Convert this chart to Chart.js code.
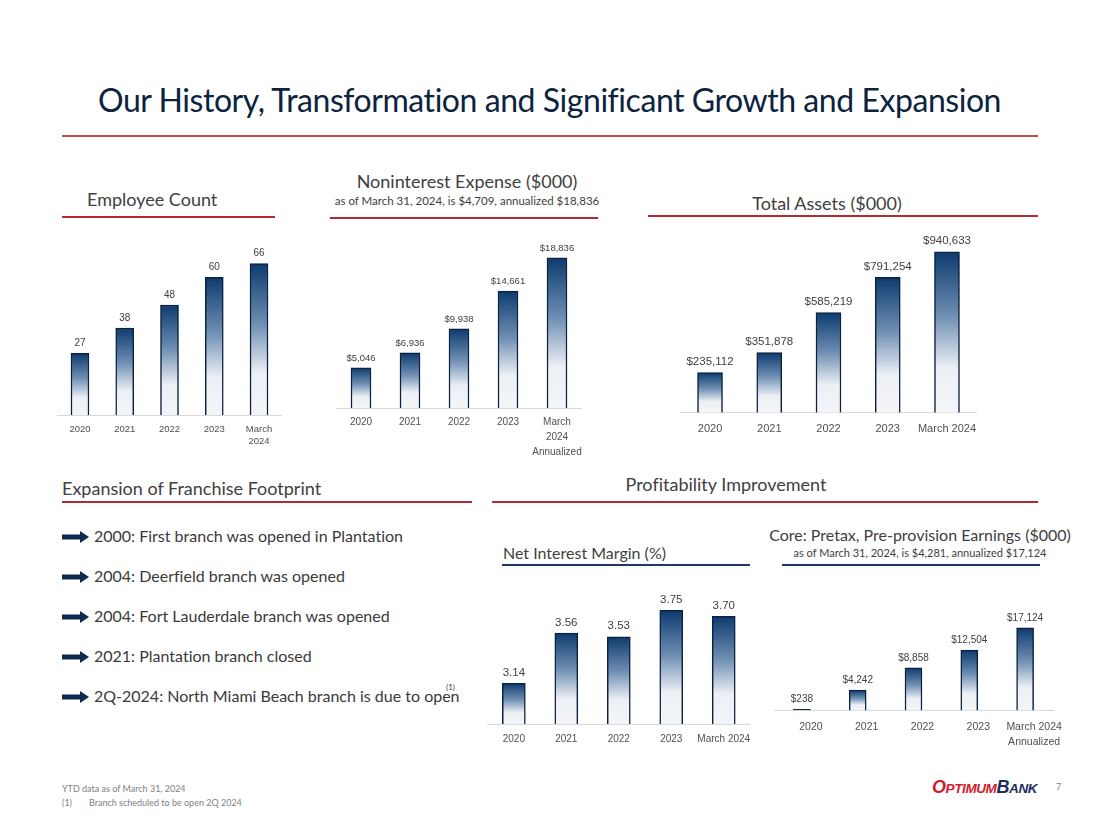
<!DOCTYPE html>
<html>
<head>
<meta charset="utf-8">
<script src="https://cdn.jsdelivr.net/npm/chart.js@4.4.1/dist/chart.umd.min.js"></script>
<style>
  body { margin: 0; background: #fff; }
  #page { position: relative; width: 1100px; height: 825px; overflow: hidden; font-family: Lato, "Noto Sans", sans-serif; font-variant-ligatures: none; }
  .abs { position: absolute; white-space: nowrap; }
  .title { left: 98px; top: 80px; font-size: 32px; color: #0c2340; letter-spacing: -0.45px; }
  .head { font-size: 18px; color: #404040; }
  .sub { font-size: 11.5px; color: #404040; }
  .red { position: absolute; height: 2px; background: #b22a32; }
  .navy { position: absolute; height: 2px; background: #1f3864; }
  .chart { position: absolute; }
  .item { position: absolute; left: 62px; font-size: 16px; color: #3a3a3a; white-space: nowrap; }
  .item svg { vertical-align: middle; margin-right: 5px; position: relative; top: -1px; }
  .foot { font-size: 9px; color: #7f7f7f; }
</style>
</head>
<body>
<div id="page">
  <div class="abs title">Our History, Transformation and Significant Growth and Expansion</div>
  <div class="red" style="left:62px; top:135px; width:976px; background:#c0504d;"></div>

  <div class="abs head" style="left:87px; top:188px;">Employee Count</div>
  <div class="red" style="left:62px; top:216px; width:213px;"></div>

  <div class="abs head" style="left:330px; top:170px; width:274px; text-align:center;">Noninterest Expense ($000)</div>
  <div class="abs sub" style="left:320px; top:194px; width:294px; text-align:center;">as of March 31, 2024, is $4,709, annualized $18,836</div>
  <div class="red" style="left:330px; top:217px; width:268px;"></div>

  <div class="abs head" style="left:727px; top:192px; width:200px; text-align:center;">Total Assets ($000)</div>
  <div class="red" style="left:648px; top:215px; width:390px;"></div>

  <div class="abs head" style="left:62px; top:477px;">Expansion of Franchise Footprint</div>
  <div class="red" style="left:62px; top:501px; width:410px;"></div>

  <div class="abs head" style="left:616px; top:473px; width:220px; text-align:center;">Profitability Improvement</div>
  <div class="red" style="left:492px; top:501px; width:546px;"></div>

  <div class="abs head" style="left:503px; top:543px; font-size:16px;">Net Interest Margin (%)</div>
  <div class="navy" style="left:502px; top:564px; width:248px;"></div>

  <div class="abs head" style="left:760px; top:525px; width:320px; text-align:center; font-size:16px;">Core: Pretax, Pre-provision Earnings ($000)</div>
  <div class="abs sub" style="left:770px; top:546px; width:300px; text-align:center; font-size:11px;">as of March 31, 2024, is $4,281, annualized $17,124</div>
  <div class="navy" style="left:782px; top:564px; width:258px;"></div>

  <div id="items"></div>
  <div class="abs" style="left:446px; top:682px; font-size:8px; color:#3a3a3a;">(1)</div>

  <div class="chart" style="left:50px; top:240px; width:240px; height:215px;"><canvas id="empChart"></canvas></div>
  <div class="chart" style="left:320px; top:240px; width:280px; height:227px;"><canvas id="nieChart"></canvas></div>
  <div class="chart" style="left:660px; top:230px; width:340px; height:216px;"><canvas id="taChart"></canvas></div>
  <div class="chart" style="left:480px; top:590px; width:280px; height:164px;"><canvas id="nimChart"></canvas></div>
  <div class="chart" style="left:770px; top:590px; width:300px; height:168px;"><canvas id="coreChart"></canvas></div>

  <div class="abs foot" style="left:62px; top:783px;">YTD data as of March 31, 2024</div>
  <div class="abs foot" style="left:62px; top:797px;">(1)</div>
  <div class="abs foot" style="left:89px; top:797px;">Branch scheduled to be open 2Q 2024</div>
  <div class="abs" style="left:932px; top:777px; font-family:'Liberation Sans', Arial, sans-serif; font-weight:bold; font-style:italic; letter-spacing:-0.4px;">
    <span style="color:#d0202e; font-size:18px;">O</span><span style="color:#d0202e; font-size:13.5px;">PTIMUM</span><span style="color:#1f2d5c; font-size:18px;">B</span><span style="color:#1f2d5c; font-size:13.5px;">ANK</span>
  </div>
  <div class="abs foot" style="left:1056px; top:781px;">7</div>
</div>

<script>
// ---- данные ----
const empYears = ['2020', '2021', '2022', '2023', ['March', '2024']];
const empCount = [27, 38, 48, 60, 66];

const nieYears = ['2020', '2021', '2022', '2023', ['March', '2024', 'Annualized']];
const nieValues = [5046, 6936, 9938, 14661, 18836];

const taYears = ['2020', '2021', '2022', '2023', 'March 2024'];
const taValues = [235112, 351878, 585219, 791254, 940633];

const nimYears = ['2020', '2021', '2022', '2023', 'March 2024'];
const nimValues = [3.14, 3.56, 3.53, 3.75, 3.70];

const coreYears = ['2020', '2021', '2022', '2023', ['March 2024', 'Annualized']];
const coreValues = [238, 4242, 8858, 12504, 17124];

const footprint = [
  '2000: First branch was opened in Plantation',
  '2004: Deerfield branch was opened',
  '2004: Fort Lauderdale branch was opened',
  '2021: Plantation branch closed',
  '2Q-2024: North Miami Beach branch is due to open'
];

// список со стрелками
const arrowSvg = '<svg width="27" height="12" viewBox="0 0 27 12"><rect x="0" y="3.5" width="19" height="5" fill="#0e2a4f"/><polygon points="18,0 27,6 18,12" fill="#0e2a4f"/></svg>';
const itemsBox = document.getElementById('items');
footprint.forEach((t, i) => {
  const d = document.createElement('div');
  d.className = 'item';
  d.style.top = (526 + i * 40) + 'px';
  d.innerHTML = arrowSvg + t;
  itemsBox.appendChild(d);
});

// градиент столбика: тёмно-синий сверху, почти белый снизу
function barGradient(c) {
  const chart = c.chart;
  if (!chart.chartArea || c.type !== 'data') return '#0d3b6e';
  const y = chart.scales.y;
  const top = y.getPixelForValue(c.raw);
  let base = y.getBasePixel();
  if (base - top < 1) base = top + 1;
  const g = chart.ctx.createLinearGradient(0, top, 0, base);
  g.addColorStop(0, '#0d3b6e');
  g.addColorStop(0.4, '#6f8fb3');
  g.addColorStop(0.72, '#eceff4');
  g.addColorStop(1, '#f4f5f8');
  return g;
}

// подписи значений над столбиками
function valueLabels(format, font, color, gap) {
  return {
    id: 'valueLabels',
    afterDatasetsDraw(chart) {
      const ctx = chart.ctx;
      const meta = chart.getDatasetMeta(0);
      const data = chart.data.datasets[0].data;
      ctx.save();
      ctx.font = font;
      ctx.fillStyle = color;
      ctx.textAlign = 'center';
      ctx.textBaseline = 'bottom';
      meta.data.forEach((bar, i) => ctx.fillText(format(data[i]), bar.x, bar.y - gap));
      ctx.restore();
    }
  };
}

const money = v => '$' + v.toLocaleString('en-US');

function makeChart(id, labels, values, opt) {
  return new Chart(document.getElementById(id), {
    type: 'bar',
    data: {
      labels: labels,
      datasets: [{
        data: values,
        backgroundColor: barGradient,
        borderColor: '#0a2240',
        borderWidth: 1.5,
        borderSkipped: 'bottom',
        barThickness: opt.bar
      }]
    },
    options: {
      responsive: true,
      maintainAspectRatio: false,
      animation: false,
      layout: { padding: opt.padding },
      plugins: { legend: { display: false }, tooltip: { enabled: false } },
      scales: {
        x: {
          grid: { display: false, drawTicks: false },
          border: { display: true, color: '#d9d9d9', width: 1 },
          ticks: {
            color: '#505050',
            padding: opt.tickPad,
            labelOffset: opt.labelOffset || 0,
            maxRotation: 0,
            autoSkip: false,
            font: { family: 'Liberation Sans', size: opt.tickSize, lineHeight: opt.lineHeight }
          }
        },
        y: { display: false, min: opt.min, max: opt.max }
      }
    },
    plugins: [valueLabels(opt.format, opt.labelFont, '#404040', opt.gap)]
  });
}

makeChart('empChart', empYears, empCount, {
  bar: 18, padding: { left: 7.6, right: 8.6, top: 0, bottom: 0 },
  tickPad: 8, tickSize: 9.5, lineHeight: 1.25, min: 0, max: 76.3,
  format: v => String(v), labelFont: '10px "Liberation Sans"', gap: 5
});

makeChart('nieChart', nieYears, nieValues, {
  bar: 20, padding: { left: 16.5, right: 18.5, top: 0, bottom: 0 },
  tickPad: 7, tickSize: 10, lineHeight: 1.5, min: 0, max: 21082,
  format: money, labelFont: '9.5px "Liberation Sans"', gap: 5
});

makeChart('taChart', taYears, taValues, {
  bar: 25, padding: { left: 20.4, right: 23.4, top: 0, bottom: 0 },
  tickPad: 10, tickSize: 11, lineHeight: 1.2, min: 0, max: 1068219,
  format: money, labelFont: '11.5px "Liberation Sans"', gap: 5
});

makeChart('nimChart', nimYears, nimValues, {
  bar: 23, padding: { left: 7.6, right: 8.6, top: 0, bottom: 0 },
  tickPad: 9, tickSize: 10, lineHeight: 1.2, min: 2.8, max: 3.921,
  format: v => v.toFixed(2), labelFont: '11.5px "Liberation Sans"', gap: 5
});

makeChart('coreChart', coreYears, coreValues, {
  bar: 17, padding: { left: 4, right: 17, top: 0, bottom: 0 },
  tickPad: 9, tickSize: 10.5, lineHeight: 1.4, min: 0, max: 24968, labelOffset: 9,
  format: money, labelFont: '10px "Liberation Sans"', gap: 5
});
</script>
</body>
</html>
